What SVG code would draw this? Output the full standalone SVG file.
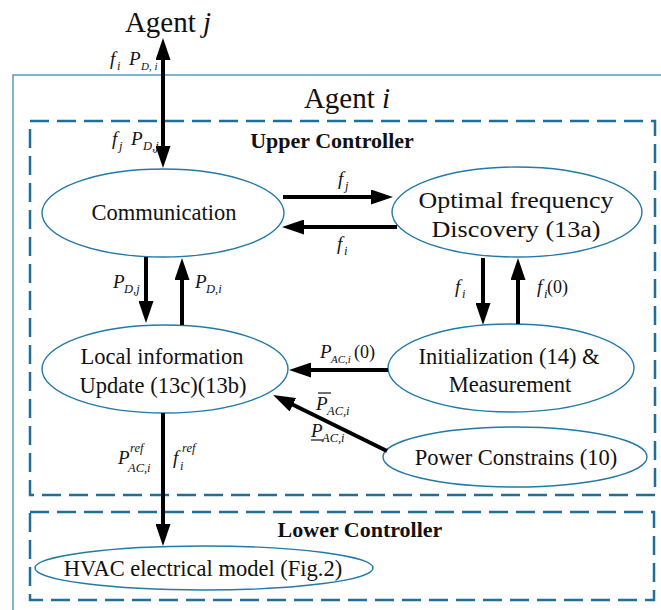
<svg xmlns="http://www.w3.org/2000/svg" width="661" height="610" viewBox="0 0 661 610">
<defs>
<marker id="ah" markerUnits="userSpaceOnUse" markerWidth="23" markerHeight="15" refX="1" refY="7.5" orient="auto-start-reverse">
<path d="M0,0 L22,7.5 L0,15 z" fill="#000"/>
</marker>
<style>
text{font-family:'Liberation Serif','Times New Roman',Times,'DejaVu Serif',serif;fill:#111}
.node{fill:#fff;stroke:#2379a8;stroke-width:1.4}
.dash{fill:none;stroke:#1f6f99;stroke-width:2.5;stroke-dasharray:19 8}
.lbl{font-size:22.5px;text-anchor:middle}
.big{font-size:29px;text-anchor:middle}
.bold{font-size:22px;font-weight:bold;text-anchor:middle}
.it{font-size:19px;font-style:italic}
.sub{font-size:12.5px;font-style:italic}
.sm{font-size:11px;font-style:italic}
.rm{font-size:18px}
.arr{fill:none;stroke:#000;stroke-width:4;marker-end:url(#ah)}
</style>
</defs>
<rect width="661" height="610" fill="#fff"/>

<g id="agent-i-box">
<rect x="13" y="75" width="670" height="560" fill="none" stroke="#5a9cc0" stroke-width="1.5"/>
<text x="347" y="108" class="big">Agent <tspan font-style="italic">i</tspan></text>
</g>
<g id="agent-j">
<text x="168" y="32" class="big">Agent <tspan font-style="italic">j</tspan></text>
</g>
<g id="upper-controller">
<rect x="30" y="121" width="625" height="374" class="dash"/>
<text x="332" y="148" class="bold">Upper Controller</text>
</g>
<g id="lower-controller">
<rect x="30" y="512" width="624" height="88" class="dash"/>
<text x="360" y="537" class="bold">Lower Controller</text>
</g>

<g id="communication">
<ellipse cx="163" cy="213" rx="121" ry="44" class="node"/>
<text x="164" y="220" class="lbl">Communication</text>
</g>
<g id="optimal-frequency">
<ellipse cx="517" cy="212" rx="125" ry="45" class="node"/>
<text x="516" y="208" class="lbl" textLength="195" lengthAdjust="spacingAndGlyphs">Optimal frequency</text>
<text x="516" y="237" class="lbl" textLength="169" lengthAdjust="spacingAndGlyphs">Discovery (13a)</text>
</g>
<g id="local-information">
<ellipse cx="165" cy="369" rx="123" ry="44" class="node"/>
<text x="162" y="364" class="lbl">Local information</text>
<text x="163" y="393" class="lbl">Update (13c)(13b)</text>
</g>
<g id="initialization">
<ellipse cx="511" cy="368" rx="123" ry="44" class="node"/>
<text x="509" y="364" class="lbl">Initialization (14) &amp;</text>
<text x="510" y="392" class="lbl">Measurement</text>
</g>
<g id="power-constrains">
<ellipse cx="515" cy="457" rx="132" ry="30" class="node"/>
<text x="516" y="465" class="lbl">Power Constrains (10)</text>
</g>
<g id="hvac">
<ellipse cx="204" cy="568" rx="169" ry="22" class="node"/>
<text x="203" y="576" class="lbl">HVAC electrical model (Fig.2)</text>
</g>

<g id="connectors">
<line x1="163" y1="59" x2="163" y2="147" class="arr" style="marker-start:url(#ah)"/>
<line x1="283" y1="197" x2="372" y2="197" class="arr"/>
<line x1="397" y1="227" x2="303" y2="227" class="arr"/>
<line x1="483" y1="258" x2="483" y2="304" class="arr"/>
<line x1="518" y1="324" x2="518" y2="279" class="arr"/>
<line x1="146" y1="257" x2="146" y2="302" class="arr"/>
<line x1="182" y1="325" x2="182" y2="279" class="arr"/>
<line x1="388" y1="370" x2="310" y2="370" class="arr"/>
<line x1="387" y1="451" x2="292" y2="404.3" class="arr"/>
<line x1="163" y1="413" x2="163" y2="525" class="arr"/>
</g>

<g id="connector-labels">
<text x="110" y="65" class="it">f</text><text x="117" y="70" class="sub">i</text>
<text x="129" y="65" class="it">P</text><text x="141" y="70" class="sm">D, i</text>
<text x="112" y="145" class="it">f</text><text x="119" y="150" class="sub">j</text>
<text x="131" y="145" class="it">P</text><text x="143" y="150" class="sub">D,j</text>

<text x="338" y="185" class="it">f</text><text x="345" y="190" class="sub">j</text>
<text x="337" y="250" class="it">f</text><text x="344" y="255" class="sub">i</text>

<text x="455" y="293" class="it">f</text><text x="462" y="298" class="sub">i</text>
<text x="537" y="293" class="it">f</text><text x="544" y="298" class="sub">i</text><text x="547" y="293" class="rm">(0)</text>

<text x="113" y="288" class="it">P</text><text x="124" y="293" class="sub">D,j</text>
<text x="195" y="288" class="it">P</text><text x="206" y="293" class="sub">D,i</text>

<text x="320" y="358" class="it">P</text><text x="331" y="363" class="sm">AC,i</text><text x="354" y="358" class="rm">(0)</text>

<line x1="318" y1="393" x2="331" y2="393" stroke="#111" stroke-width="1.2"/>
<text x="316" y="410" class="it">P</text><text x="327" y="415" class="sub">AC,i</text>
<text x="311" y="437" class="it">P</text><text x="322" y="442" class="sub">AC,i</text>
<line x1="311" y1="440" x2="324" y2="440" stroke="#111" stroke-width="1.2"/>

<text x="118" y="464" class="it">P</text><text x="130" y="452" class="sub">ref</text><text x="128" y="472" class="sub">AC,i</text>
<text x="173" y="464" class="it">f</text><text x="182" y="452" class="sub">ref</text><text x="180" y="470" class="sub">i</text>
</g>
</svg>
